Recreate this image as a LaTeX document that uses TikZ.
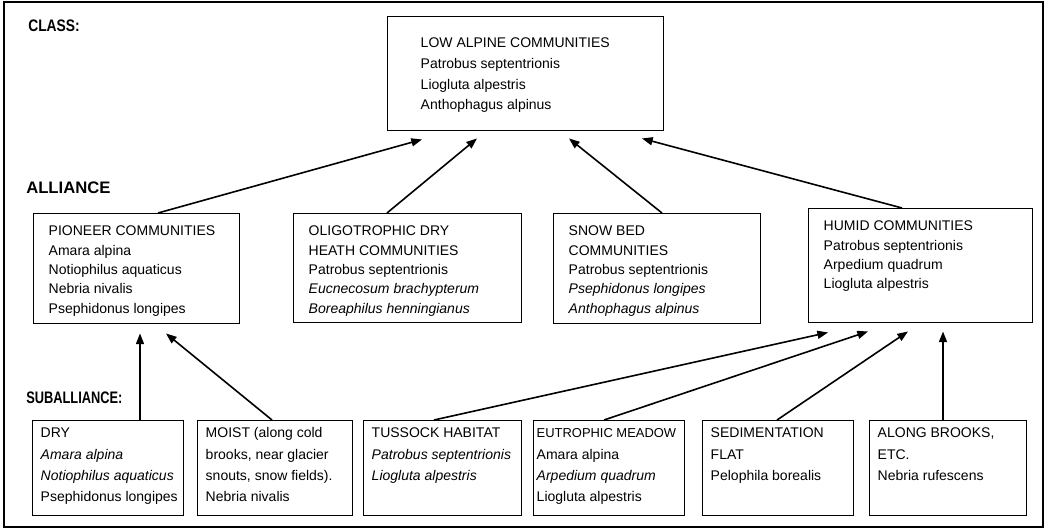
\documentclass[tikz,border=0pt]{standalone}
\usepackage{fontspec}
\setmainfont{Liberation Sans}
\newfontfamily\condbold[FakeStretch=0.83]{Liberation Sans}
\newfontfamily\narrowbold[FakeStretch=0.77]{Liberation Sans}
\usetikzlibrary{arrows.meta}
\newdimen\px \px=0.75pt
\newcommand{\boxtext}[3]{\parbox[t][#2\px][t]{#1\px}{\begin{tabular}[t]{@{}l@{}}#3\end{tabular}}}
\tikzset{
  commbox/.style={draw, line width=1.1pt, anchor=north west},
  classbox/.style={commbox, inner xsep=33\px, inner ysep=16.5\px, font=\fontsize{10.5}{15.5}\selectfont},
  alliancebox/.style={commbox, inner xsep=15\px, inner ysep=8.5\px, font=\fontsize{10.5}{14.5}\selectfont},
  subbox/.style={commbox, inner xsep=8\px, inner ysep=2\px, font=\fontsize{10.5}{16}\selectfont},
  levellabel/.style={anchor=base west, inner sep=0pt},
  link/.style={line width=1.2pt, -{Triangle[length=8pt,width=6pt]}}
}
\begin{document}
\begin{tikzpicture}[x=0.75pt, y=-0.75pt]
  \useasboundingbox (0,0) rectangle (1048,531);
  \draw[line width=1.5pt] (4,2) rectangle (1043,527);

  \node[levellabel, font=\condbold\fontsize{12.5}{14}\selectfont\bfseries] (classlbl) at (28,32) {CLASS:};
  \node[levellabel, font=\fontsize{12.5}{14}\selectfont\bfseries] (alliancelbl) at (26,193) {ALLIANCE};
  \node[levellabel, font=\narrowbold\fontsize{12.5}{14}\selectfont\bfseries] (sublbl) at (26,403) {SUBALLIANCE:};

  \node[classbox] (lowalpine) at (387,16) {\boxtext{210}{81}{LOW ALPINE COMMUNITIES\\ Patrobus septentrionis\\ Liogluta alpestris\\ Anthophagus alpinus}};

  \node[alliancebox] (pioneer) at (33,213) {\boxtext{176}{93}{PIONEER COMMUNITIES\\ Amara alpina\\ Notiophilus aquaticus\\ Nebria nivalis\\ Psephidonus longipes}};
  \node[alliancebox] (oligo) at (293,213) {\boxtext{198}{92}{OLIGOTROPHIC DRY\\ HEATH COMMUNITIES\\ Patrobus septentrionis\\ \textit{Eucnecosum brachypterum}\\ \textit{Boreaphilus henningianus}}};
  \node[alliancebox] (snowbed) at (553,213) {\boxtext{177}{93}{SNOW BED\\ COMMUNITIES\\ Patrobus septentrionis\\ \textit{Psephidonus longipes}\\ \textit{Anthophagus alpinus}}};
  \node[alliancebox] (humid) at (808,208) {\boxtext{194}{97}{HUMID COMMUNITIES\\ Patrobus septentrionis\\ Arpedium quadrum\\ Liogluta alpestris}};

  \node[subbox] (dry) at (32,420) {\boxtext{135}{91}{DRY\\ \textit{Amara alpina}\\ \textit{Notiophilus aquaticus}\\ Psephidonus longipes}};
  \node[subbox] (moist) at (197,420) {\boxtext{139}{91}{MOIST (along cold\\ brooks, near glacier\\ snouts, snow fields).\\ Nebria nivalis}};
  \node[subbox] (tussock) at (363,420) {\boxtext{142}{91}{TUSSOCK HABITAT\\ \textit{Patrobus septentrionis}\\ \textit{Liogluta alpestris}}};
  \node[subbox, inner xsep=3\px] (eutrophic) at (533,420) {\boxtext{145}{91}{\fontsize{9.7}{16}\selectfont EUTROPHIC MEADOW\\ Amara alpina\\ \textit{Arpedium quadrum}\\ Liogluta alpestris}};
  \node[subbox] (sediment) at (702,420) {\boxtext{135}{91}{SEDIMENTATION\\ FLAT\\ Pelophila borealis}};
  \node[subbox] (brooks) at (869,420) {\boxtext{141}{91}{ALONG BROOKS,\\ ETC.\\ Nebria rufescens}};

  \draw[link] ([xshift=125\px]pioneer.north west) -- ([xshift=35\px,yshift=-8\px]lowalpine.south west);
  \draw[link] ([xshift=94\px]oligo.north west) -- ([xshift=90\px,yshift=-7\px]lowalpine.south west);
  \draw[link] ([xshift=109\px]snowbed.north west) -- ([xshift=182\px,yshift=-7\px]lowalpine.south west);
  \draw[link] ([xshift=94\px]humid.north west) -- ([xshift=255\px,yshift=-7\px]lowalpine.south west);

  \draw[link] ([xshift=108\px]dry.north west) -- ([xshift=107\px,yshift=-9\px]pioneer.south west);
  \draw[link] ([xshift=75\px]moist.north west) -- ([xshift=133\px,yshift=-9\px]pioneer.south west);
  \draw[link] ([xshift=71\px]tussock.north west) -- ([xshift=20\px,yshift=-9\px]humid.south west);
  \draw[link] ([xshift=71\px]eutrophic.north west) -- ([xshift=60\px,yshift=-8\px]humid.south west);
  \draw[link] ([xshift=75\px]sediment.north west) -- ([xshift=100\px,yshift=-8\px]humid.south west);
  \draw[link] ([xshift=74\px]brooks.north west) -- ([xshift=135\px,yshift=-8\px]humid.south west);
\end{tikzpicture}
\end{document}
